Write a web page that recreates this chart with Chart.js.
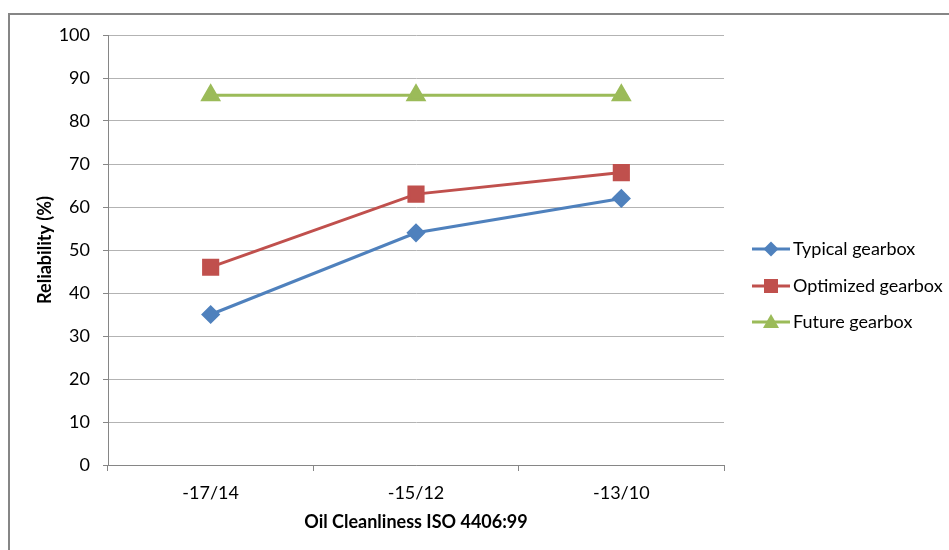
<!DOCTYPE html>
<html>
<head>
<meta charset="utf-8">
<script src="https://cdn.jsdelivr.net/npm/chart.js@4.4.1/dist/chart.umd.min.js"></script>
<style>
    html, body { margin: 0; padding: 0; background: #fff; }
    #wrap { width: 949px; height: 550px; position: relative; }
</style>
</head>
<body>
<div id="wrap"><canvas id="reliabilityChart"></canvas></div>
<script>
// Данные графика
const categories = ['-17/14', '-15/12', '-13/10'];
const typicalGearbox = [35, 54, 62];
const optimizedGearbox = [46, 63, 68];
const futureGearbox = [86, 86, 86];
const seriesNames = ['Typical gearbox', 'Optimized gearbox', 'Future gearbox'];
const yTicks = [0, 10, 20, 30, 40, 50, 60, 70, 80, 90, 100];

const FONT = 'Lato, "Open Sans", sans-serif';

// Рамка вокруг всей диаграммы
const framePlugin = {
    id: 'frame',
    beforeDraw(chart) {
        const ctx = chart.ctx;
        ctx.save();
        ctx.fillStyle = '#fff';
        ctx.fillRect(0, 0, chart.width, chart.height);
        ctx.strokeStyle = '#868686';
        ctx.lineWidth = 2;
        ctx.strokeRect(9, 14, 1000, 600);
        ctx.restore();
    }
};

// Легенда в стиле Excel: линия с маркером
function drawMarker(ctx, style, x, y, color) {
    ctx.fillStyle = color;
    ctx.beginPath();
    if (style === 'rectRot') {
        const r = 7.5;
        ctx.moveTo(x, y - r); ctx.lineTo(x + r, y); ctx.lineTo(x, y + r); ctx.lineTo(x - r, y);
    } else if (style === 'rect') {
        const s = 7;
        ctx.rect(x - s, y - s, 2 * s, 2 * s);
    } else {
        const r = 8;
        ctx.moveTo(x, y - r); ctx.lineTo(x + r, y + r * 0.75); ctx.lineTo(x - r, y + r * 0.75);
    }
    ctx.closePath();
    ctx.fill();
}

const legendPlugin = {
    id: 'excelLegend',
    afterDraw(chart) {
        const ctx = chart.ctx;
        const rows = [249, 286, 322];
        ctx.save();
        chart.data.datasets.forEach((ds, i) => {
            const y = rows[i];
            ctx.strokeStyle = ds.borderColor;
            ctx.lineWidth = 3;
            ctx.beginPath();
            ctx.moveTo(752, y);
            ctx.lineTo(790, y);
            ctx.stroke();
            drawMarker(ctx, ds.pointStyle, 771, y, ds.borderColor);
            ctx.fillStyle = '#000';
            ctx.font = '18px ' + FONT;
            ctx.textBaseline = 'middle';
            ctx.textAlign = 'left';
            ctx.fillText(ds.label, 793, y);
        });
        ctx.restore();
    }
};

new Chart(document.getElementById('reliabilityChart'), {
    type: 'line',
    data: {
        labels: categories,
        datasets: [{
            label: seriesNames[0],
            data: typicalGearbox,
            borderColor: '#4F81BD',
            backgroundColor: '#4F81BD',
            pointStyle: 'rectRot',
            pointRadius: 7.5,
            borderWidth: 3
        }, {
            label: seriesNames[1],
            data: optimizedGearbox,
            borderColor: '#C0504D',
            backgroundColor: '#C0504D',
            pointStyle: 'rect',
            pointRadius: 10,
            borderWidth: 3
        }, {
            label: seriesNames[2],
            data: futureGearbox,
            borderColor: '#9BBB59',
            backgroundColor: '#9BBB59',
            pointStyle: 'triangle',
            pointRadius: 9,
            borderWidth: 3
        }]
    },
    options: {
        responsive: true,
        maintainAspectRatio: false,
        animation: false,
        layout: {
            padding: { top: 35, right: 225, bottom: 0, left: 0 }
        },
        elements: {
            line: { tension: 0 },
            point: { borderWidth: 0, hoverRadius: 10 }
        },
        plugins: {
            legend: { display: false },
            tooltip: { enabled: false }
        },
        scales: {
            x: {
                offset: true,
                afterFit: function(scale) { scale.height = 85; },
                grid: {
                    offset: true,
                    drawOnChartArea: false,
                    drawTicks: true,
                    tickLength: 6,
                    color: '#868686'
                },
                border: { color: '#868686', width: 1 },
                ticks: {
                    color: '#000',
                    padding: 11,
                    font: { family: FONT, size: 18 }
                },
                title: {
                    display: true,
                    text: 'Oil Cleanliness ISO 4406:99',
                    color: '#000',
                    padding: { top: 0, bottom: 17 },
                    font: { family: FONT, size: 18, weight: 'bold' }
                }
            },
            y: {
                min: 0,
                max: 100,
                afterFit: function(scale) { scale.width = 108; },
                afterBuildTicks: function(scale) {
                    scale.ticks = yTicks.map(v => ({ value: v }));
                },
                grid: {
                    color: '#b3b3b3',
                    tickColor: '#868686',
                    tickLength: 5
                },
                border: { color: '#868686', width: 1 },
                ticks: {
                    color: '#000',
                    padding: 13,
                    font: { family: FONT, size: 18 }
                },
                title: {
                    display: true,
                    text: 'Reliability (%)',
                    color: '#000',
                    padding: { top: 34, bottom: 0 },
                    font: { family: FONT, size: 18, weight: 'bold' }
                }
            }
        }
    },
    plugins: [framePlugin, legendPlugin]
});
</script>
</body>
</html>
